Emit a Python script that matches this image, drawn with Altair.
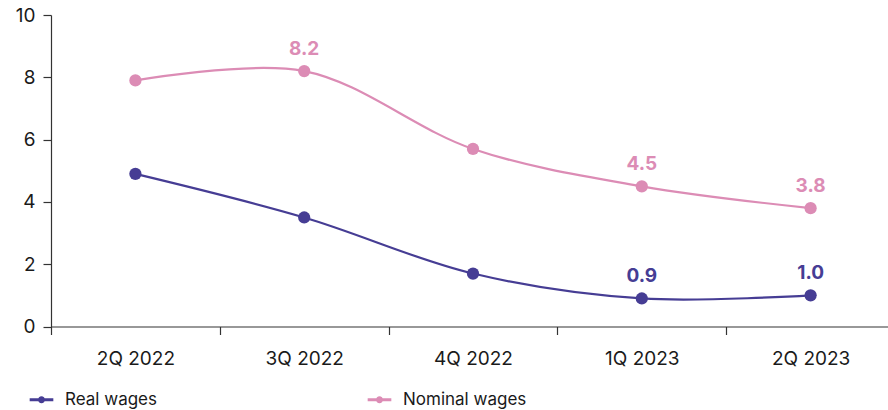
import altair as alt
import pandas as pd

quarters = ["2Q 2022", "3Q 2022", "4Q 2022", "1Q 2023", "2Q 2023"]
real_wages = [4.9, 3.5, 1.7, 0.9, 1.0]
nominal_wages = [7.9, 8.2, 5.7, 4.5, 3.8]
# which points carry a value label
real_labelled = [False, False, False, True, True]
nominal_labelled = [False, True, False, True, True]

series_names = ["Real wages", "Nominal wages"]
series_colors = ["#463d94", "#dc8cb5"]

rows = []
for q, v, lab in zip(quarters, real_wages, real_labelled):
    rows.append({"quarter": q, "value": v, "series": "Real wages", "labelled": lab})
for q, v, lab in zip(quarters, nominal_wages, nominal_labelled):
    rows.append({"quarter": q, "value": v, "series": "Nominal wages", "labelled": lab})
df = pd.DataFrame(rows)

FONT = "Inter"
TEXT = "#1a1a1a"

# stroked line-with-dot glyph for the legend, in the -1..1 symbol space;
# the tiny circle fills in solid under the thick stroke
legend_glyph = (
    "M-1,0 L1,0 "
    "M-0.17,0 A0.17,0.17 0 1,0 0.17,0 A0.17,0.17 0 1,0 -0.17,0"
)

x_enc = alt.X(
    "quarter:N",
    sort=quarters,
    bandPosition=0.5,
    scale=alt.Scale(type="band", paddingInner=0, paddingOuter=0, range=[0, 844]),
    axis=alt.Axis(
        title=None,
        tickBand="extent",
        labelAngle=0,
        labelFont=FONT,
        labelFontSize=19,
        labelColor=TEXT,
        labelPadding=15,
        tickSize=8,
        tickColor="#333333",
        domainColor="#333333",
        tickWidth=1.2,
        domainWidth=1.2,
    ),
)
y_enc = alt.Y(
    "value:Q",
    scale=alt.Scale(domain=[0, 10], nice=False),
    axis=alt.Axis(
        title=None,
        values=[0, 2, 4, 6, 8, 10],
        grid=False,
        labelFont=FONT,
        labelFontSize=19,
        labelColor=TEXT,
        labelPadding=8,
        tickSize=8,
        tickColor="#333333",
        domainColor="#333333",
        tickWidth=1.2,
        domainWidth=1.2,
    ),
)
color_enc = alt.Color(
    "series:N",
    scale=alt.Scale(domain=series_names, range=series_colors),
    legend=alt.Legend(
        title=None,
        orient="none",
        direction="horizontal",
        legendX=-23,
        legendY=371,
        symbolType=legend_glyph,
        symbolSize=560,
        symbolStrokeWidth=3,
        labelFont=FONT,
        labelFontSize=17,
        labelColor=TEXT,
        labelOffset=10,
        columnPadding=204,
    ),
)

base = alt.Chart(df).encode(x=x_enc, y=y_enc, color=color_enc)

lines = base.mark_line(interpolate="catmull-rom", strokeWidth=2.2)
points = base.mark_circle(size=150, opacity=1)
labels = (
    base.transform_filter(alt.datum.labelled)
    .mark_text(font=FONT, fontSize=19, fontWeight="bold", dy=-22)
    .encode(text=alt.Text("value:Q", format=".1f"))
)

chart = (
    alt.layer(lines, points, labels)
    .properties(
        width=837,
        height=311.5,
        background="white",
        autosize=alt.AutoSizeParams(type="none"),
        padding={"left": 51, "top": 15, "right": 0, "bottom": 83.5},
    )
    .configure_view(stroke="transparent", strokeWidth=0)
)

chart.save("out.html", embed_options={"renderer": "svg", "actions": False})
